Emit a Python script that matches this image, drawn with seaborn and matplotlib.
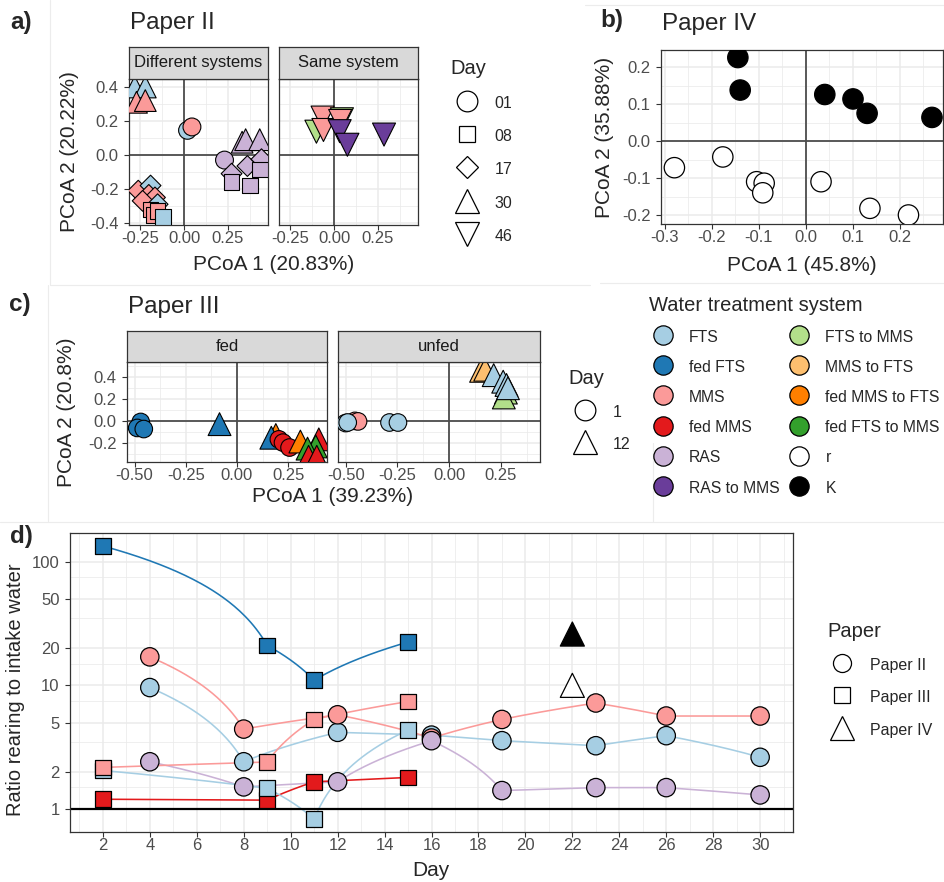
import numpy as np
import pandas as pd
import matplotlib
matplotlib.use("Agg")
import matplotlib.pyplot as plt
from matplotlib.path import Path
from matplotlib.patches import PathPatch
from matplotlib.lines import Line2D
from matplotlib.ticker import NullFormatter
import seaborn as sns

# ---------------- data ----------------
systems = ["FTS", "fed FTS", "MMS", "fed MMS", "RAS", "RAS to MMS",
           "FTS to MMS", "MMS to FTS", "fed MMS to FTS", "fed FTS to MMS", "r", "K"]
system_colors = ["#A6CEE3", "#1F78B4", "#FB9A99", "#E31A1C", "#CAB2D6", "#6A3D9A",
                 "#B2DF8A", "#FDBF6F", "#FF7F00", "#33A02C", "#FFFFFF", "#000000"]

# a) Paper II PCoA
a_facet = ["Different systems"] * 26 + ["Same system"] * 8
a_day = ["30", "30", "30", "30", "17", "17", "17", "17", "17", "17",
         "08", "08", "08", "08", "01", "01", "01", "30", "30", "30",
         "17", "17", "17", "08", "08", "08",
         "46", "46", "46", "46", "46", "46", "46", "46"]
a_system = ["FTS", "FTS", "MMS", "MMS", "MMS", "FTS", "MMS", "MMS", "MMS", "FTS",
            "MMS", "MMS", "MMS", "FTS", "FTS", "MMS", "RAS", "RAS", "RAS", "RAS",
            "RAS", "RAS", "RAS", "RAS", "RAS", "RAS",
            "MMS", "FTS to MMS", "MMS", "FTS to MMS", "MMS", "RAS to MMS", "RAS to MMS", "RAS to MMS"]
a_pc1 = [-0.28, -0.22, -0.27, -0.22, -0.26, -0.19, -0.20, -0.165, -0.235, -0.15,
         -0.19, -0.17, -0.15, -0.12, 0.02, 0.045, 0.23, 0.33, 0.35, 0.43,
         0.27, 0.36, 0.44, 0.27, 0.375, 0.43,
         -0.065, -0.10, -0.06, 0.045, 0.035, 0.032, 0.076, 0.284]
a_pc2 = [0.40, 0.40, 0.31, 0.32, -0.21, -0.18, -0.235, -0.25, -0.27, -0.29,
         -0.32, -0.355, -0.33, -0.365, 0.145, 0.165, -0.03, 0.075, 0.09, 0.09,
         -0.11, -0.065, -0.025, -0.16, -0.18, -0.085,
         0.22, 0.137, 0.147, 0.21, 0.20, 0.14, 0.06, 0.12]
a_day_levels = ["01", "08", "17", "30", "46"]

# b) Paper IV PCoA
b_pc1 = [-0.145, -0.14, 0.04, 0.10, 0.13, 0.268,
         -0.28, -0.177, -0.105, -0.089, -0.092, 0.032, 0.136, 0.218]
b_pc2 = [0.226, 0.138, 0.126, 0.114, 0.075, 0.064,
         -0.072, -0.043, -0.11, -0.114, -0.14, -0.11, -0.182, -0.20]
b_strategy = ["K"] * 6 + ["r"] * 8

# c) Paper III PCoA
c_feeding = ["fed"] * 15 + ["unfed"] * 14
c_day = ["1", "1", "1", "12", "12", "12", "1", "1", "1", "12", "12", "12", "12", "12", "12",
         "1", "1", "1", "1", "1", "1", "12", "12", "12", "12", "12", "12", "12", "12"]
c_system = ["fed FTS", "fed FTS", "fed FTS", "fed FTS", "fed MMS to FTS", "fed FTS",
            "fed MMS", "fed MMS", "fed MMS", "fed MMS to FTS", "fed MMS", "fed FTS to MMS",
            "fed FTS to MMS", "fed MMS", "fed MMS",
            "MMS", "MMS", "FTS", "FTS", "FTS", "FTS",
            "MMS to FTS", "MMS to FTS", "FTS", "FTS to MMS", "FTS to MMS", "FTS", "FTS", "FTS"]
c_pc1 = [-0.47, -0.487, -0.455, -0.085, 0.19, 0.168, 0.205, 0.225, 0.257, 0.31, 0.40, 0.385,
         0.345, 0.35, 0.39,
         -0.455, -0.44, -0.50, -0.49, -0.288, -0.247,
         0.155, 0.175, 0.216, 0.275, 0.265, 0.262, 0.278, 0.285]
c_pc2 = [-0.01, -0.065, -0.075, -0.03, -0.13, -0.155, -0.17, -0.20, -0.245, -0.19, -0.17, -0.235,
         -0.255, -0.33, -0.33,
         0.0, -0.005, -0.02, -0.015, -0.015, -0.015,
         0.46, 0.47, 0.42, 0.26, 0.215, 0.36, 0.33, 0.30]

# d) ratio rearing / intake water
d_days_II = [4, 8, 12, 16, 19, 23, 26, 30]
d_II_FTS = [9.6, 2.41, 4.17, 3.96, 3.57, 3.25, 3.92, 2.62]
d_II_MMS = [17.0, 4.43, 5.78, 3.75, 5.3, 7.2, 5.65, 5.65]
d_II_RAS = [2.41, 1.51, 1.66, 3.57, 1.41, 1.49, 1.49, 1.30]
d_days_III = [2, 9, 11, 15]
d_III_fedMMS = [1.2, 1.18, 1.66, 1.8]
d_III_FTS = [2.05, 1.47, 0.83, 4.35]
d_III_MMS = [2.17, 2.4, 5.3, 7.4]
d_III_fedFTS = [134.0, 21.0, 11.0, 22.4]
d_IV_day = [22, 22]
d_IV_ratio = [10.0, 26.0]
d_IV_strategy = ["r", "K"]

# ---------------- figure ----------------
sns.set_theme(style="white")
plt.rcParams["font.family"] = ["Liberation Sans", "DejaVu Sans"]

W, H, DPI = 945, 882, 100
fig = plt.figure(figsize=(W / DPI, H / DPI), dpi=DPI)
fig.patch.set_facecolor("white")
PAL = dict(zip(systems, system_colors))

TICK_FS = 12
TITLE_FS = 15


def add_ax(l, t, r, b):
    return fig.add_axes([l / W, 1 - b / H, (r - l) / W, (b - t) / H])


def ftext(x, y, s, **kw):
    fig.text(x / W, 1 - y / H, s, **kw)


def bw(ax, xlim, ylim, xt, xtl, yt, ytl, xm, ym, show_y=True, logy=False):
    if logy:
        ax.set_yscale("log")
    ax.set_xlim(*xlim)
    ax.set_ylim(*ylim)
    ax.set_xticks(xt)
    ax.set_xticklabels(xtl)
    ax.set_xticks(xm, minor=True)
    ax.set_yticks(yt)
    ax.set_yticklabels(ytl if show_y else [""] * len(yt))
    ax.set_yticks(ym, minor=True)
    ax.xaxis.set_minor_formatter(NullFormatter())
    ax.yaxis.set_minor_formatter(NullFormatter())
    ax.grid(True, which="major", color="#ebebeb", lw=1.1)
    ax.grid(True, which="minor", color="#ebebeb", lw=0.55)
    ax.set_axisbelow(True)
    ax.set_facecolor("white")
    for s in ax.spines.values():
        s.set_color("#333333")
        s.set_linewidth(0.9)
        s.set_visible(True)
    ax.tick_params(which="major", length=3.5, width=0.8, color="#333333",
                   labelsize=TICK_FS, labelcolor="#4d4d4d")
    ax.tick_params(axis="x", which="major", pad=1, bottom=True)
    ax.tick_params(axis="y", which="major", pad=4, left=show_y)
    ax.tick_params(which="minor", length=0)
    ax.set_xlabel("")
    ax.set_ylabel("")


def strip(l, t, r, b, label):
    s = add_ax(l, t, r, b)
    s.set_facecolor("#d9d9d9")
    s.set_xticks([])
    s.set_yticks([])
    for sp in s.spines.values():
        sp.set_color("#333333")
        sp.set_linewidth(0.9)
    s.text(0.5, 0.5, label, ha="center", va="center", fontsize=12, color="#1a1a1a",
           transform=s.transAxes)


def zero_lines(ax):
    ax.axhline(0, color="#4d4d4d", lw=1.3, zorder=2)
    ax.axvline(0, color="#4d4d4d", lw=1.3, zorder=2)


def add_legend(handles, labels, title, left, top, ncol=1, hl=2.1, tp=0.7, ls=0.99,
               cs=0.3, hh=1.3, fs=11.5, tfs=14.5):
    lg = fig.legend(handles=handles, labels=labels, title=title, loc="upper left",
                    bbox_to_anchor=(left / W, 1 - top / H), frameon=False, ncol=ncol,
                    fontsize=fs, title_fontsize=tfs, handlelength=hl, handletextpad=tp,
                    labelspacing=ls, columnspacing=cs, handleheight=hh, borderpad=0,
                    borderaxespad=0, alignment="left")
    return lg


def hk(marker, ms, fc="none"):
    return Line2D([0], [0], ls="none", marker=marker, ms=ms, mfc=fc, mec="black", mew=0.9)


# faint borders of the composed image
for (x0, y0, x1, y1) in [(50, 0, 50, 285), (50, 285, 590, 285), (585, 5, 945, 5),
                         (48, 285, 48, 522), (0, 522, 945, 522), (653, 443, 653, 522),
                         (600, 283, 945, 283)]:
    fig.add_artist(Line2D([x0 / W, x1 / W], [1 - y0 / H, 1 - y1 / H], transform=fig.transFigure,
                          color="#ececec", lw=0.8))

# ---------------- panel a ----------------
df_a = pd.DataFrame({"facet": a_facet, "day": a_day, "system": a_system,
                     "pc1": a_pc1, "pc2": a_pc2})
mk_a = dict(zip(a_day_levels, ["o", "s", "D", "^", "v"]))
sz_a = dict(zip(a_day_levels, [165, 128, 112, 245, 275]))
xa = (-0.3125, 0.477)
ya = (-0.412, 0.447)
for i, (facet, (l, r)) in enumerate(zip(["Different systems", "Same system"],
                                         [(129, 268), (279, 418)])):
    ax = add_ax(l, 79, r, 225)
    strip(l, 47, r, 79, facet)
    zero_lines(ax)
    sns.scatterplot(data=df_a[df_a.facet == facet], x="pc1", y="pc2", hue="system",
                    palette=PAL, style="day", markers=mk_a, size="day", sizes=sz_a,
                    edgecolor="black", linewidth=0.8, legend=False, zorder=3, ax=ax)
    bw(ax, xa, ya, [-0.25, 0, 0.25], ["-0.25", "0.00", "0.25"],
       [-0.4, -0.2, 0, 0.2, 0.4], ["-0.4", "-0.2", "0.0", "0.2", "0.4"],
       [-0.125, 0.125, 0.375], [-0.3, -0.1, 0.1, 0.3], show_y=(i == 0))

ftext(21, 23, "a)", fontsize=17.5, fontweight="bold", ha="center", va="center")
ftext(130, 23, "Paper II", fontsize=17.5, ha="left", va="center")
ftext(274, 264, "PCoA 1 (20.83%)", fontsize=TITLE_FS, ha="center", va="center")
ftext(70, 152, "PCoA 2 (20.22%)", fontsize=TITLE_FS, ha="center", va="center", rotation=90)

add_legend([hk("o", 14.9), hk("s", 12.2), hk("D", 11.7), hk("^", 17.0), hk("v", 17.0)],
           a_day_levels, "Day", 450, 59)

# ---------------- panel b ----------------
df_b = pd.DataFrame({"pc1": b_pc1, "pc2": b_pc2, "strategy": b_strategy})
ax_b = add_ax(661, 50, 943, 224)
zero_lines(ax_b)
sns.scatterplot(data=df_b, x="pc1", y="pc2", hue="strategy", palette=PAL, s=215,
                edgecolor="black", linewidth=0.9, legend=False, zorder=3, ax=ax_b)
bw(ax_b, (-0.3085, 0.2915), (-0.2244, 0.2464),
   [-0.3, -0.2, -0.1, 0, 0.1, 0.2], ["-0.3", "-0.2", "-0.1", "0.0", "0.1", "0.2"],
   [-0.2, -0.1, 0, 0.1, 0.2], ["-0.2", "-0.1", "0.0", "0.1", "0.2"],
   [-0.25, -0.15, -0.05, 0.05, 0.15, 0.25], [-0.15, -0.05, 0.05, 0.15])
ftext(612, 20, "b)", fontsize=17.5, fontweight="bold", ha="center", va="center")
ftext(662, 24, "Paper IV", fontsize=17.5, ha="left", va="center")
ftext(802, 265, "PCoA 1 (45.8%)", fontsize=TITLE_FS, ha="center", va="center")
ftext(605, 137, "PCoA 2 (35.88%)", fontsize=TITLE_FS, ha="center", va="center", rotation=90)

# ---------------- panel c ----------------
df_c = pd.DataFrame({"feeding": c_feeding, "day": c_day, "system": c_system,
                     "pc1": c_pc1, "pc2": c_pc2})
mk_c = {"1": "o", "12": "^"}
sz_c = {"1": 160, "12": 270}
for i, (facet, (l, r)) in enumerate(zip(["fed", "unfed"], [(127, 327), (338, 540)])):
    ax = add_ax(l, 362, r, 462)
    strip(l, 331, r, 362, facet)
    zero_lines(ax)
    sns.scatterplot(data=df_c[df_c.feeding == facet], x="pc1", y="pc2", hue="system",
                    palette=PAL, style="day", markers=mk_c, size="day", sizes=sz_c,
                    edgecolor="black", linewidth=0.8, legend=False, zorder=3, ax=ax)
    bw(ax, (-0.537, 0.44), (-0.378, 0.541), [-0.5, -0.25, 0, 0.25],
       ["-0.50", "-0.25", "0.00", "0.25"], [-0.2, 0, 0.2, 0.4],
       ["-0.2", "0.0", "0.2", "0.4"], [-0.375, -0.125, 0.125, 0.375],
       [-0.3, -0.1, 0.1, 0.3, 0.5], show_y=(i == 0))

ftext(20, 305, "c)", fontsize=17.5, fontweight="bold", ha="center", va="center")
ftext(128, 307, "Paper III", fontsize=17.5, ha="left", va="center")
ftext(333, 497, "PCoA 1 (39.23%)", fontsize=TITLE_FS, ha="center", va="center")
ftext(67, 412, "PCoA 2 (20.8%)", fontsize=TITLE_FS, ha="center", va="center", rotation=90)

add_legend([hk("o", 14.9), hk("^", 17.0)], ["1", "12"], "Day", 568, 369, ls=0.93)
add_legend([hk("o", 13.9, fc=c) for c in system_colors], systems,
           "Water treatment system", 649, 296, ncol=2, hl=1.8, tp=0.76, ls=0.86,
           cs=0.35, hh=1.25, fs=11.3)

# ---------------- panel d ----------------
series = [
    (d_days_II, d_II_FTS, "FTS", "Paper II"),
    (d_days_II, d_II_MMS, "MMS", "Paper II"),
    (d_days_II, d_II_RAS, "RAS", "Paper II"),
    (d_days_III, d_III_fedMMS, "fed MMS", "Paper III"),
    (d_days_III, d_III_FTS, "FTS", "Paper III"),
    (d_days_III, d_III_MMS, "MMS", "Paper III"),
    (d_days_III, d_III_fedFTS, "fed FTS", "Paper III"),
]
rows = []
for days, vals, sysname, paper in series:
    for dd, vv in zip(days, vals):
        rows.append((dd, vv, sysname, paper))
for dd, vv, st in zip(d_IV_day, d_IV_ratio, d_IV_strategy):
    rows.append((dd, vv, st, "Paper IV"))
df_d = pd.DataFrame(rows, columns=["day", "ratio", "system", "paper"])
df_d = df_d.sort_values("day", kind="stable")

ax_d = add_ax(70, 533, 793, 832)
ax_d.set_yscale("log")
# lines drawn straight in data space (as in a transformed coordinate system)
for days, vals, sysname, paper in series:
    pth = Path(np.column_stack([days, vals])).interpolated(60)
    ax_d.add_patch(PathPatch(pth, fill=False, edgecolor=PAL[sysname], lw=1.15, zorder=2,
                             capstyle="round", joinstyle="round"))
ax_d.axhline(1, color="black", lw=1.6, zorder=2)
sns.scatterplot(data=df_d, x="day", y="ratio", hue="system", palette=PAL, style="paper",
                markers={"Paper II": "o", "Paper III": "s", "Paper IV": "^"},
                size="paper", sizes={"Paper II": 175, "Paper III": 130, "Paper IV": 300},
                edgecolor="black", linewidth=0.9, legend=False, zorder=3, ax=ax_d)
bw(ax_d, (0.6, 31.4), (0.652, 170.6), list(range(2, 31, 2)), [str(v) for v in range(2, 31, 2)],
   [1, 2, 5, 10, 20, 50, 100], ["1", "2", "5", "10", "20", "50", "100"],
   list(range(1, 32, 2)), [1.5, 3.5, 7.5, 15, 35, 75], logy=True)

ftext(21, 537, "d)", fontsize=17.5, fontweight="bold", ha="center", va="center")
ftext(431, 870, "Day", fontsize=TITLE_FS, ha="center", va="center")
ftext(16, 690, "Ratio rearing to intake water", fontsize=14.5, ha="center", va="center",
      rotation=90)

add_legend([hk("o", 13.0), hk("s", 11.5), hk("^", 17.3)], ["Paper II", "Paper III", "Paper IV"],
           "Paper", 827, 622, hl=1.88, tp=0.82, ls=0.94)

fig.savefig("out.png", dpi=DPI, facecolor="white")
